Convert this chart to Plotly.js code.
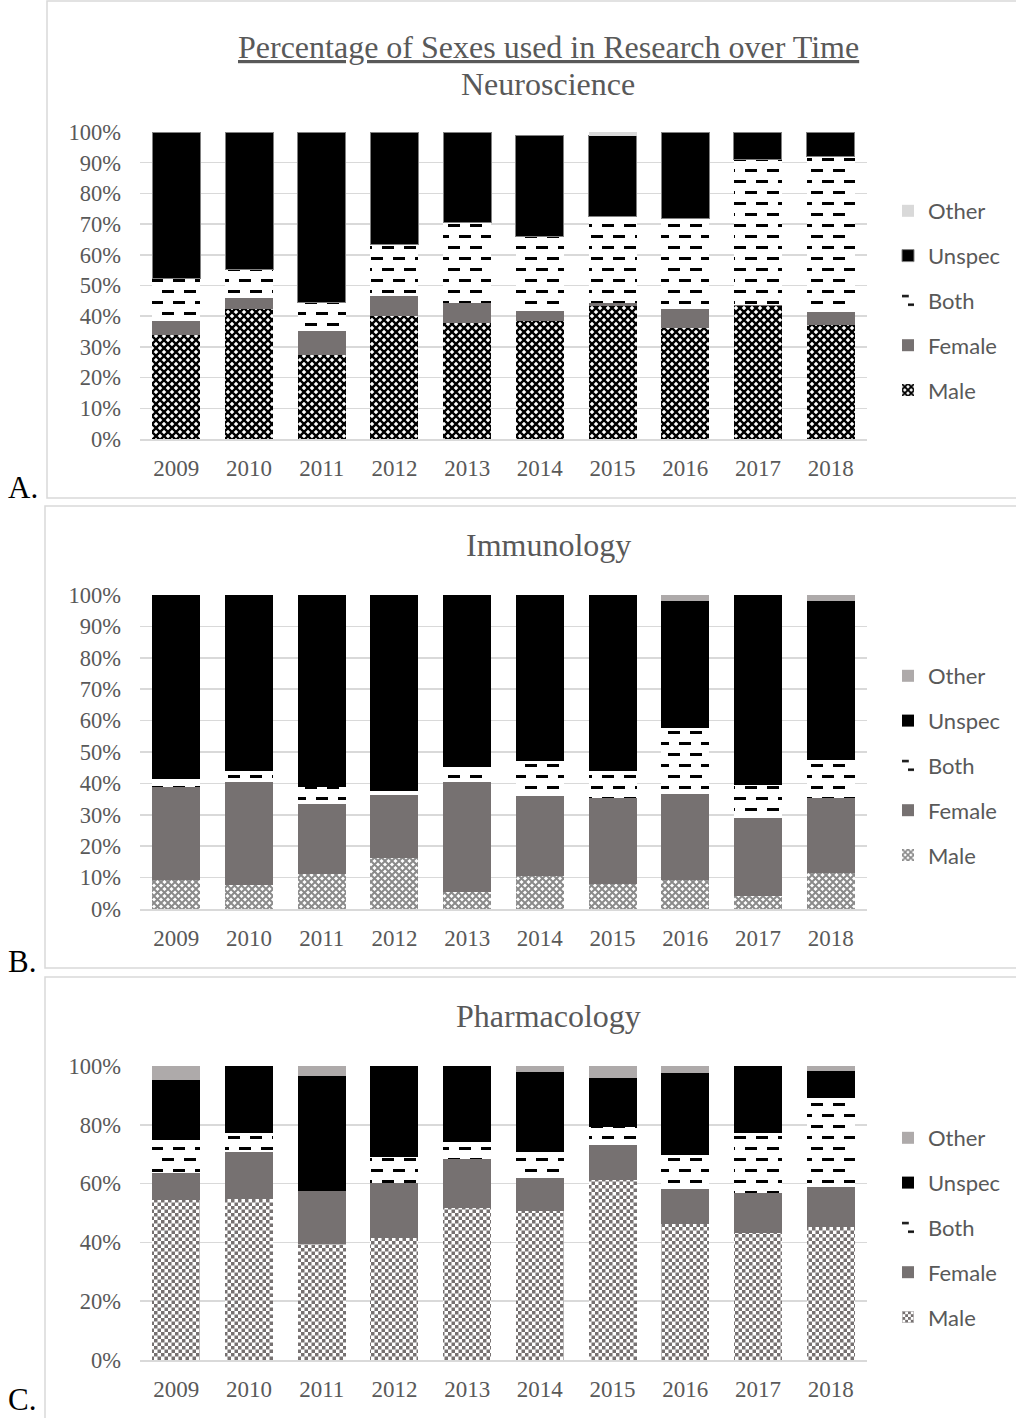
<!DOCTYPE html>
<html>
<head>
<meta charset="utf-8">
<script src="https://cdn.plot.ly/plotly-3.0.1.min.js"></script>
<style>
  html, body { margin: 0; padding: 0; background: #ffffff; }
  #chart { width: 1016px; height: 1418px; }
</style>
</head>
<body>
<div id="chart"></div>
<script>
// ---- data (percent of studies per year) ----
const years = ['2009', '2010', '2011', '2012', '2013', '2014', '2015', '2016', '2017', '2018'];
const seriesNames = ['Male', 'Female', 'Both', 'Unspec', 'Other'];

// Neuroscience
const neuroMale   = [33.8, 42.3, 27.5, 40.1, 37.7, 38.3, 43.4, 36.3, 43.4, 37.1];
const neuroFemale = [4.7, 3.5, 7.6, 6.5, 6.6, 3.5, 0.9, 6.2, 0.3, 4.3];
const neuroBoth   = [13.8, 9.5, 9.5, 16.8, 26.1, 24.1, 28.2, 29.3, 47.4, 50.6];
const neuroUnspec = [47.7, 44.7, 55.4, 36.6, 29.6, 33.1, 26.2, 28.2, 8.9, 8.0];
const neuroOther  = [0, 0, 0, 0, 0, 0, 1.3, 0, 0, 0];

// Immunology
const immunoMale   = [9.1, 7.8, 11.1, 16.3, 5.3, 10.6, 8.0, 9.1, 4.3, 11.5];
const immunoFemale = [29.7, 32.5, 22.5, 19.9, 35.0, 25.4, 27.3, 27.5, 24.7, 23.8];
const immunoBoth   = [2.7, 3.6, 5.2, 1.4, 4.8, 11.0, 8.7, 21.2, 10.6, 12.0];
const immunoUnspec = [58.5, 56.1, 61.2, 62.4, 54.9, 53.0, 56.0, 40.4, 60.4, 50.9];
const immunoOther  = [0, 0, 0, 0, 0, 0, 0, 1.8, 0, 1.8];

// Pharmacology
const pharmaMale   = [54.4, 54.7, 39.4, 41.4, 51.6, 50.8, 61.2, 46.3, 43.1, 45.1];
const pharmaFemale = [9.1, 16.2, 18.1, 18.8, 16.8, 11.0, 12.0, 11.9, 13.6, 13.6];
const pharmaBoth   = [11.4, 6.3, 0, 8.7, 5.7, 9.1, 6.2, 11.6, 20.5, 30.3];
const pharmaUnspec = [20.5, 22.8, 39.2, 31.1, 25.9, 27.2, 16.5, 27.9, 22.8, 9.4];
const pharmaOther  = [4.6, 0, 3.3, 0, 0, 1.9, 4.1, 2.3, 0, 1.6];

const panelTitles = ['Neuroscience', 'Immunology', 'Pharmacology'];
const mainTitle = 'Percentage of Sexes used in Research over Time';
const panelLetters = ['A.', 'B.', 'C.'];

// ---- page geometry helpers (pixel -> paper) ----
const W = 1016, H = 1418;
const px = x => x / W;
const py = y => 1 - y / H;

const SERIF = 'Liberation Serif, Times New Roman, serif';
const SANS = 'Lato, Open Sans, sans-serif';
const TEXT_GREY = '#595959';
const GRID = '#d9d9d9';
const FEMALE_GREY = '#767171';

const panels = [
  { key: 'A', values: [neuroMale, neuroFemale, neuroBoth, neuroUnspec, neuroOther],
    yTop: 132, yBot: 439, dtick: 10, otherColor: '#d9d9d9', unspecLine: '#808080', legendTop: 190 },
  { key: 'B', values: [immunoMale, immunoFemale, immunoBoth, immunoUnspec, immunoOther],
    yTop: 595, yBot: 909, dtick: 10, otherColor: '#aeaaaa', unspecLine: '#000000', legendTop: 655 },
  { key: 'C', values: [pharmaMale, pharmaFemale, pharmaBoth, pharmaUnspec, pharmaOther],
    yTop: 1066, yBot: 1360, dtick: 20, otherColor: '#aeaaaa', unspecLine: '#000000', legendTop: 1117 }
];

const uidPrefix = ['mal', 'fem', 'bot', 'uns', 'oth'];
const traces = [];
const layout = {
  width: W, height: H,
  margin: { l: 0, r: 0, t: 0, b: 0 },
  paper_bgcolor: '#ffffff',
  plot_bgcolor: 'rgba(0,0,0,0)',
  barmode: 'stack',
  bargap: 0.34,
  showlegend: true,
  shapes: [],
  annotations: []
};

panels.forEach((p, i) => {
  const n = i === 0 ? '' : String(i + 1);
  const xa = 'x' + n, ya = 'y' + n;
  const legendName = 'legend' + n;

  seriesNames.forEach((name, s) => {
    const marker = { line: { width: 0 } };
    if (s === 0) {
      marker.color = '#ffffff';
      marker.pattern = { shape: 'x', fgcolor: '#000000', bgcolor: '#ffffff', size: 8, solidity: 0.4 };
    } else if (s === 1) {
      marker.color = FEMALE_GREY;
    } else if (s === 2) {
      marker.color = '#ffffff';
      marker.pattern = { shape: '-', fgcolor: '#000000', bgcolor: '#ffffff', size: 11, solidity: 0.27 };
    } else if (s === 3) {
      marker.color = '#000000';
      marker.line = { width: i === 0 ? 1 : 0, color: p.unspecLine };
    } else {
      marker.color = p.otherColor;
    }
    traces.push({
      type: 'bar',
      uid: uidPrefix[s] + '-' + p.key,
      name: name,
      x: years,
      y: p.values[s],
      xaxis: xa, yaxis: ya,
      legend: legendName,
      legendgroup: name + p.key,
      legendrank: seriesNames.length - s,   // top of the stack listed first
      marker: marker,
      hoverinfo: 'skip'
    });
  });

  layout['xaxis' + n] = {
    domain: [px(140), px(867)],
    anchor: ya,
    type: 'category',
    showgrid: false,
    showline: true, linecolor: GRID, linewidth: 1.5,
    ticks: '',
    ticklabelstandoff: 8,
    tickfont: { family: SERIF, size: 23, color: TEXT_GREY },
    fixedrange: true
  };
  layout['yaxis' + n] = {
    domain: [py(p.yBot), py(p.yTop)],
    anchor: xa,
    range: [0, 100],
    dtick: p.dtick,
    ticksuffix: '%',
    showgrid: true, gridcolor: GRID, gridwidth: 1.5,
    zeroline: false, showline: false,
    ticks: '',
    ticklabelstandoff: 18,
    tickfont: { family: SERIF, size: 22.5, color: TEXT_GREY },
    fixedrange: true
  };
  layout[legendName] = {
    x: px(888), xanchor: 'left',
    y: py(p.legendTop), yanchor: 'top',
    traceorder: 'grouped',
    tracegroupgap: 13.2,
    bgcolor: 'rgba(0,0,0,0)',
    font: { family: SANS, size: 22, color: TEXT_GREY }
  };
});

// panel frames
const frames = [[47, 1, 1030, 498], [45, 506, 1030, 968], [45, 977, 1030, 1430]];
frames.forEach(f => {
  layout.shapes.push({
    type: 'rect', xref: 'paper', yref: 'paper', layer: 'below',
    x0: px(f[0]), x1: px(f[2]), y0: py(f[3]), y1: py(f[1]),
    line: { color: GRID, width: 1.5 }, fillcolor: 'rgba(0,0,0,0)'
  });
});

// titles
layout.annotations.push({
  xref: 'paper', yref: 'paper', x: px(548), y: py(47), xanchor: 'center', yanchor: 'middle',
  text: '<span style="text-decoration:underline">' + mainTitle + '</span>', showarrow: false,
  font: { family: SERIF, size: 32, color: TEXT_GREY }
});
[84, 545, 1016].forEach((y, i) => {
  layout.annotations.push({
    xref: 'paper', yref: 'paper', x: px(548), y: py(y), xanchor: 'center', yanchor: 'middle',
    text: panelTitles[i], showarrow: false,
    font: { family: SERIF, size: 32, color: TEXT_GREY }
  });
});
[487, 962, 1399].forEach((y, i) => {
  layout.annotations.push({
    xref: 'paper', yref: 'paper', x: px(6), y: py(y), xanchor: 'left', yanchor: 'middle',
    text: panelLetters[i], showarrow: false,
    font: { family: SERIF, size: 31, color: '#000000' }
  });
});

// ---- custom fill tiles for the patterned series ----
const SVGNS = 'http://www.w3.org/2000/svg';
function setTile(pat, w, h, items) {
  pat.setAttribute('width', w);
  pat.setAttribute('height', h);
  while (pat.firstChild) pat.removeChild(pat.firstChild);
  items.forEach(([tag, attrs]) => {
    const el = document.createElementNS(SVGNS, tag);
    Object.keys(attrs).forEach(k => el.setAttribute(k, attrs[k]));
    pat.appendChild(el);
  });
}
const dashTile = [
  ['rect', { x: 0, y: 0, width: 22, height: 22, fill: '#ffffff' }],
  ['path', { d: 'M0,5.5H12M11,16.5H22M-11,16.5H1', stroke: '#000000', 'stroke-width': 3, fill: 'none' }]
];
function latticeTile(color, s, lw) {
  return [
    ['rect', { x: 0, y: 0, width: s, height: s, fill: '#ffffff' }],
    ['path', { d: `M0,0L${s},${s}M0,${s}L${s},0`, stroke: color, 'stroke-width': lw, fill: 'none' }]
  ];
}
function checkerTile(color, c) {
  return [
    ['rect', { x: 0, y: 0, width: 2 * c, height: 2 * c, fill: '#ffffff' }],
    ['rect', { x: 0, y: 0, width: c, height: c, fill: color }],
    ['rect', { x: c, y: c, width: c, height: c, fill: color }]
  ];
}
function applyTiles() {
  document.querySelectorAll('pattern').forEach(pat => {
    const id = pat.id || '';
    if (id.indexOf('bot-') >= 0) setTile(pat, 22, 22, dashTile);
    else if (id.indexOf('mal-A') >= 0) setTile(pat, 8, 8, latticeTile('#000000', 8, 2.4));
    else if (id.indexOf('mal-B') >= 0) setTile(pat, 7, 7, latticeTile('#8a8a8a', 7, 2));
    else if (id.indexOf('mal-C') >= 0) setTile(pat, 7, 7, checkerTile(FEMALE_GREY, 3.5));
  });
}

Plotly.newPlot('chart', traces, layout, { staticPlot: true, displayModeBar: false }).then(applyTiles);
</script>
</body>
</html>
